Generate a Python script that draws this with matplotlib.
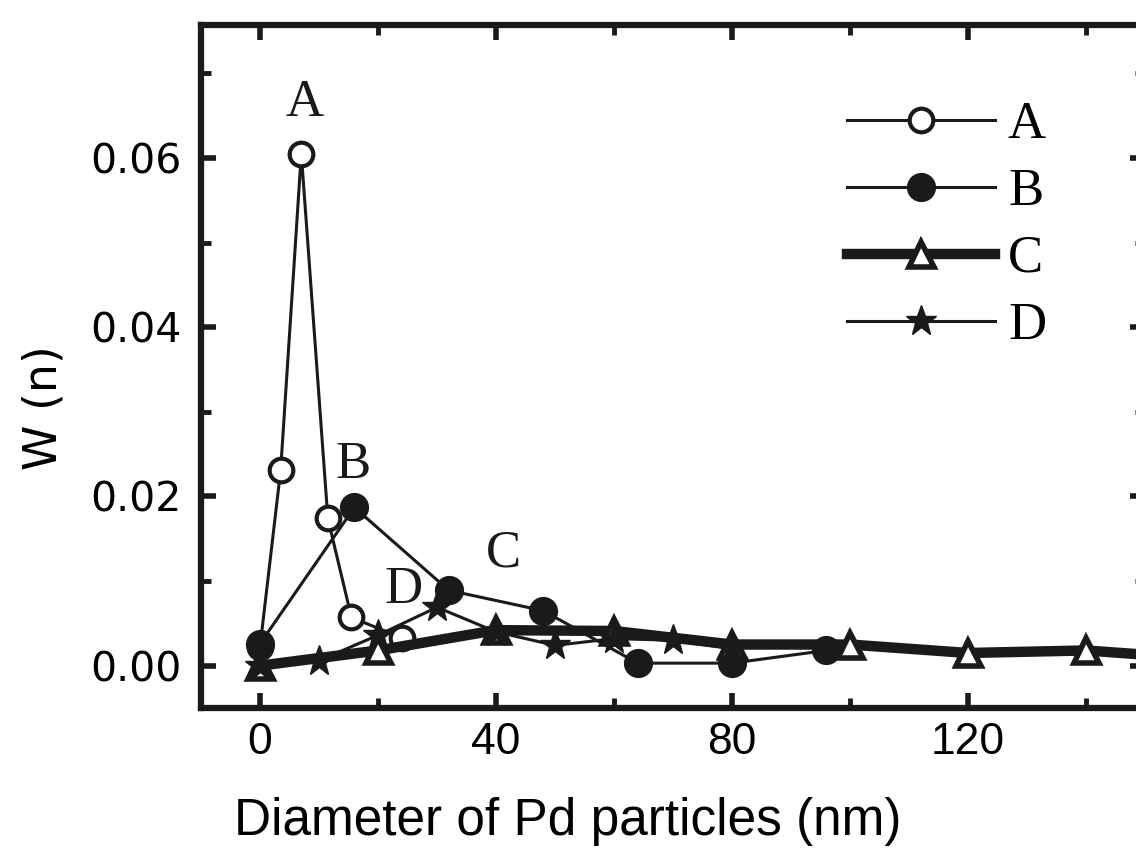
import matplotlib
matplotlib.use('Agg')
from matplotlib import pyplot as plt
from matplotlib.ticker import MultipleLocator

# sample A (open circles)
a_x = [0, 3.5, 7, 11.5, 15.5, 24]
a_y = [0.0022, 0.0231, 0.0605, 0.0174, 0.0057, 0.0033]

# sample B (filled circles)
b_x = [0, 16, 32, 48, 64, 80, 96]
b_y = [0.0026, 0.0187, 0.0089, 0.0065, 0.0003, 0.0003, 0.0018]

# sample C (open triangles, thick line)
c_x = [0, 20, 40, 60, 80, 100, 120, 140, 160]
c_y = [0.0, 0.0018, 0.0042, 0.0041, 0.0025, 0.0025, 0.0015, 0.0018, 0.0008]

# sample D (stars)
d_x = [0, 10, 20, 30, 40, 50, 60, 70, 80]
d_y = [0.0, 0.0006, 0.0036, 0.0069, 0.0040, 0.0024, 0.0032, 0.0030, 0.0020]

# curve labels inside the plot
tag_names = ['A', 'B', 'C', 'D']
tag_x = [7.6, 15.8, 41.3, 24.3]
tag_y = [0.0665, 0.0237, 0.0133, 0.0089]

x_ticks = [0, 40, 80, 120]
y_ticks = [0.00, 0.02, 0.04, 0.06]

serif = ['Liberation Serif', 'DejaVu Serif']
sans = ['Liberation Sans', 'DejaVu Sans']
wide = ['DejaVu Sans']
narrow = ['Liberation Sans Narrow', 'Liberation Sans', 'DejaVu Sans']

W, H = 1136, 867
fig = plt.figure(figsize=(W / 100, H / 100), dpi=100)
ax = fig.add_axes([201 / W, (H - 708) / H, (1145 - 201) / W, (708 - 25) / H])

col = '#1a1a1a'
ax.plot(a_x, a_y, color=col, lw=2.2, marker='o', ms=17, mfc='white', mec=col, mew=3, label='A', zorder=3)
ax.plot(b_x, b_y, color=col, lw=2.2, marker='o', ms=20, mfc=col, mec=col, label='B', zorder=3)
ax.plot(c_x, c_y, color=col, lw=7.5, marker='^', ms=18, mfc='white', mec=col, mew=4, label='C', zorder=4)
ax.plot(d_x, d_y, color=col, lw=2.2, marker='*', ms=23, mfc=col, mec=col, label='D', zorder=5)

for name, tx, ty in zip(tag_names, tag_x, tag_y):
    ax.text(tx, ty, name, ha='center', va='center', fontsize=38, family=serif, color=col)

ax.set_xlim(-10, 150)
ax.set_ylim(-0.005, 0.0757)
ax.set_xticks(x_ticks)
ax.set_yticks(y_ticks)
ax.set_yticklabels(['%.2f' % v for v in y_ticks])
ax.xaxis.set_minor_locator(MultipleLocator(20))
ax.yaxis.set_minor_locator(MultipleLocator(0.01))
ax.tick_params(which='both', direction='in', top=True, right=True, color=col)
ax.tick_params(which='major', length=11, width=4)
ax.tick_params(which='minor', length=7, width=3.5)
ax.tick_params(axis='x', pad=10)
ax.tick_params(axis='y', pad=14)
for lab in ax.get_xticklabels():
    lab.set_family(narrow)
    lab.set_fontsize(32)
for lab in ax.get_yticklabels():
    lab.set_family(wide)
    lab.set_fontsize(29.5)
for sp in ax.spines.values():
    sp.set_linewidth(4.5)
    sp.set_color(col)

fig.text(44 / W, 1 - 408 / H, 'W (n)', rotation=90, ha='center', va='center', fontsize=33, family=wide)
fig.text(568 / W, 1 - 822 / H, 'Diameter of Pd particles (nm)', ha='center', va='center', fontsize=37, family=sans)

leg = ax.legend(loc='upper left', bbox_to_anchor=(847 / W, 1 - 101 / H), bbox_transform=fig.transFigure,
                frameon=False, prop={'family': serif, 'size': 38}, handlelength=2.8, handletextpad=0.25,
                labelspacing=0.36, borderpad=0, borderaxespad=0)

fig.savefig('out.png', dpi=100)
